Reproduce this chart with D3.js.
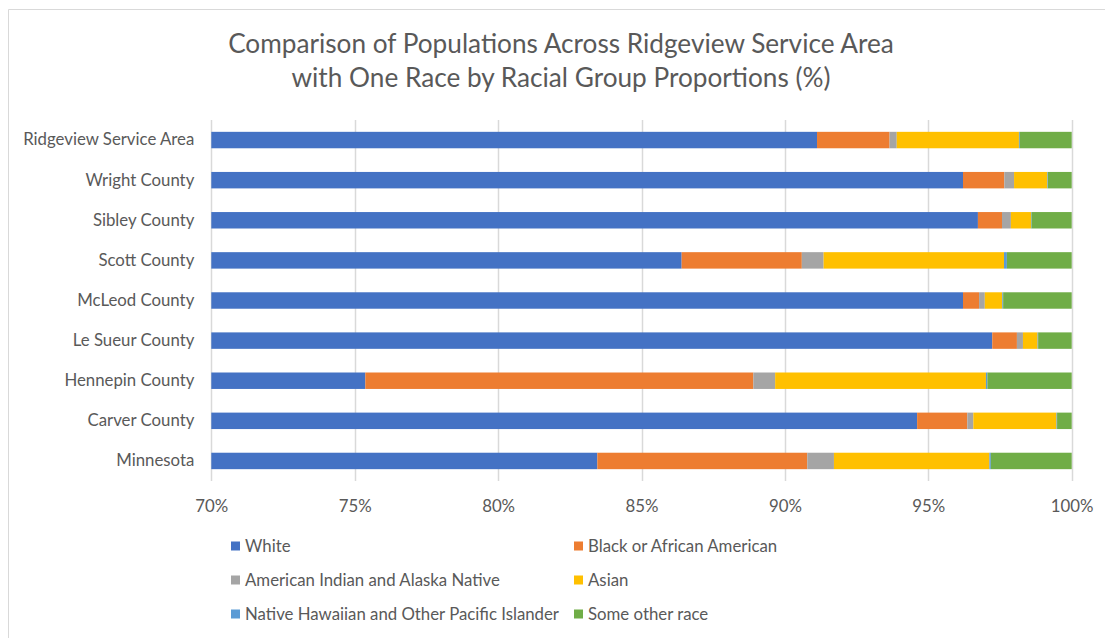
<!DOCTYPE html>
<html><head><meta charset="utf-8">
<script src="https://cdn.jsdelivr.net/npm/d3@7"></script>
<style>
html,body{margin:0;padding:0;background:#fff;}
text{font-family:Lato,"Open Sans",sans-serif;fill:#595959;}
</style></head>
<body><svg id="c" width="1105" height="638"></svg>
<script>
const categories = ["Ridgeview Service Area","Wright County","Sibley County","Scott County","McLeod County","Le Sueur County","Hennepin County","Carver County","Minnesota"];
const seriesNames = ["White","Black or African American","American Indian and Alaska Native","Asian","Native Hawaiian and Other Pacific Islander","Some other race"];
const seriesColors = ["#4472C4","#ED7D31","#A5A5A5","#FFC000","#5B9BD5","#70AD47"];
const white    = [91.12, 96.21, 96.73, 86.40, 96.21, 97.23, 75.37, 94.61, 83.46];
const black    = [ 2.53,  1.44,  0.84,  4.19,  0.56,  0.86, 13.53,  1.75,  7.32];
const aian     = [ 0.25,  0.34,  0.31,  0.76,  0.20,  0.21,  0.76,  0.21,  0.93];
const asian    = [ 4.26,  1.16,  0.70,  6.29,  0.61,  0.51,  7.35,  2.90,  5.42];
const nhpi     = [ 0.03,  0.02,  0.02,  0.10,  0.03,  0.02,  0.05,  0.02,  0.05];
const other    = [ 1.81,  0.83,  1.40,  2.26,  2.39,  1.17,  2.94,  0.51,  2.82];
const tickValues = [70, 75, 80, 85, 90, 95, 100];
const titleLines = ["Comparison of Populations Across Ridgeview Service Area","with One Race by Racial Group Proportions (%)"];

const seriesData = [white, black, aian, asian, nhpi, other];
const rows = categories.map((c,i)=>{const o={cat:c}; seriesNames.forEach((s,j)=>o[s]=seriesData[j][i]); return o;});
const stacked = d3.stack().keys(seriesNames)(rows);

const svg = d3.select("#c");
// frame
svg.append("line").attr("x1",8.5).attr("x2",1105).attr("y1",9.5).attr("y2",9.5).attr("stroke","#d9d9d9");
svg.append("line").attr("x1",8.5).attr("x2",8.5).attr("y1",9.5).attr("y2",638).attr("stroke","#d9d9d9");

const x = d3.scaleLinear().domain([70,100]).range([211.3,1071.7]);
const y = d3.scaleBand().domain(categories).range([120,481]).paddingInner(0.59).paddingOuter(0.295);

// gridlines
svg.append("g").selectAll("line").data(tickValues.slice(1)).join("line")
  .attr("x1",d=>Math.round(x(d))+0.5).attr("x2",d=>Math.round(x(d))+0.5)
  .attr("y1",120).attr("y2",481).attr("stroke","#d9d9d9").attr("stroke-width",1.5);
// y axis line
svg.append("line").attr("x1",211.5).attr("x2",211.5).attr("y1",120).attr("y2",481).attr("stroke","#d9d9d9").attr("stroke-width",1.5);

// bars
svg.append("g").selectAll("g").data(stacked).join("g")
  .attr("fill",(d,i)=>seriesColors[i])
  .selectAll("rect").data(d=>d).join("rect")
  .attr("x",d=>x(Math.max(70,d[0])))
  .attr("width",d=>Math.max(0,x(Math.min(100,d[1]))-x(Math.max(70,d[0]))))
  .attr("y",d=>y(d.data.cat))
  .attr("height",y.bandwidth());

const FS = "16.8px";
// x axis labels
const xAxis = d3.axisBottom(x).tickValues(tickValues).tickFormat(d=>d+"%").tickSize(0);
const gx = svg.append("g").attr("transform","translate(0,497)").call(xAxis);
gx.select(".domain").remove();
gx.selectAll("text").style("font-size",FS).attr("fill","#595959").attr("font-family","Lato");

// y axis labels
const yAxis = d3.axisLeft(y).tickSize(0).tickPadding(17);
const gy = svg.append("g").attr("transform","translate(211.3,0)").call(yAxis);
gy.select(".domain").remove();
gy.selectAll("text").style("font-size",FS).attr("fill","#595959").attr("font-family","Lato");

// title
svg.append("g").selectAll("text").data(titleLines).join("text")
  .attr("x",561).attr("y",(d,i)=>53+i*34).attr("text-anchor","middle")
  .style("font-size","26.2px").text(d=>d);

// legend
const legX = [231, 574], legY = [546, 580, 614];
const leg = svg.append("g").selectAll("g").data(seriesNames).join("g")
  .attr("transform",(d,i)=>`translate(${legX[i%2]},${legY[Math.floor(i/2)]})`);
leg.append("rect").attr("x",0).attr("y",-4.5).attr("width",9).attr("height",9).attr("fill",(d,i)=>seriesColors[i]);
leg.append("text").attr("x",14).attr("y",0).attr("dy","0.35em").style("font-size",FS).text(d=>d);
</script></body></html>
